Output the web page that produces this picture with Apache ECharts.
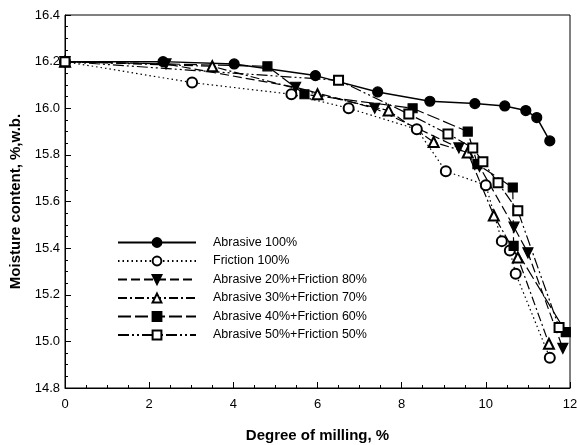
<!DOCTYPE html>
<html>
<head>
<meta charset="utf-8">
<script src="https://cdn.jsdelivr.net/npm/echarts@6/dist/echarts.min.js"></script>
<style>
  html, body { margin: 0; padding: 0; background: #fff; }
  #chart { width: 577px; height: 445px; }
</style>
</head>
<body>
<div id="chart"></div>
<script>
// milling degree (%) , moisture (%,w.b.) pairs
var abrasive100 = [[0,16.2],[2.33,16.2],[4.02,16.19],[5.95,16.14],[7.43,16.07],[8.67,16.03],[9.74,16.02],[10.45,16.01],[10.95,15.99],[11.21,15.96],[11.52,15.86]];
var friction100 = [[0,16.2],[3.02,16.11],[5.38,16.06],[6.74,16.0],[8.36,15.91],[9.05,15.73],[10.0,15.67],[10.38,15.43],[10.57,15.39],[10.71,15.29],[11.52,14.93]];
var a20f80 = [[0,16.2],[2.4,16.19],[5.48,16.09],[7.36,16.0],[9.36,15.83],[9.85,15.75],[10.67,15.49],[11.0,15.38],[11.83,14.97]];
var a30f70 = [[0,16.2],[3.5,16.18],[6.0,16.06],[7.69,15.99],[8.76,15.855],[9.57,15.81],[10.19,15.54],[10.76,15.36],[11.5,14.99]];
var a40f60 = [[0,16.2],[4.81,16.18],[5.69,16.06],[8.26,16.0],[9.57,15.9],[9.8,15.76],[10.64,15.66],[10.66,15.41],[11.9,15.04]];
var a50f50 = [[0,16.2],[6.5,16.12],[8.17,15.975],[9.1,15.89],[9.69,15.83],[9.93,15.77],[10.29,15.68],[10.76,15.56],[11.74,15.06]];

var names = ['Abrasive 100%','Friction 100%','Abrasive 20%+Friction 80%','Abrasive 30%+Friction 70%','Abrasive 40%+Friction 60%','Abrasive 50%+Friction 50%'];

var chart = echarts.init(document.getElementById('chart'));

function mk(name, data, symbol, size, lineType, width){
    return {
        name: name,
        type: 'line',
        data: data,
        symbol: symbol,
        symbolSize: size,
        showAllSymbol: true,
        animation: false,
        itemStyle: { color: '#000', borderColor: '#000', borderWidth: 1.2 },
        lineStyle: { color: '#000', width: width, type: lineType }
    };
}

var triDown = 'path://M0,0 L10,0 L5,9 Z';

var option = {
    backgroundColor: '#fff',
    animation: false,
    grid: {
        left: 65, right: 7, top: 15, bottom: 57,
        outerBoundsMode: 'none',
        show: true, borderColor: '#000', borderWidth: 1
    },
    legend: {
        data: names,
        orient: 'vertical',
        left: 112,
        top: 231,
        itemWidth: 78,
        itemHeight: 11,
        itemGap: 5.5,
        textStyle: { fontFamily: 'Liberation Sans, Arial', fontSize: 12.5, color: '#000', padding: [0,0,0,12] }
    },
    xAxis: {
        type: 'value',
        min: 0, max: 12, interval: 2,
        name: 'Degree of milling, %',
        nameLocation: 'middle',
        nameGap: 40,
        nameTextStyle: { fontFamily: 'Liberation Sans, Arial', fontWeight: 'bold', fontSize: 15, color: '#000' },
        axisLine: { lineStyle: { color: '#000', width: 1 } },
        axisTick: { inside: true, length: 6, lineStyle: { color: '#000' } },
        minorTick: { show: true, splitNumber: 4, length: 3, lineStyle: { color: '#000' } },
        axisLabel: { fontFamily: 'Liberation Sans, Arial', fontSize: 13, color: '#000', margin: 10 },
        splitLine: { show: false }
    },
    yAxis: {
        type: 'value',
        min: 14.8, max: 16.4, interval: 0.2,
        name: 'Moisture content, %,w.b.',
        nameLocation: 'middle',
        nameGap: 36,
        nameTextStyle: { fontFamily: 'Liberation Sans, Arial', fontWeight: 'bold', fontSize: 15, color: '#000' },
        axisLine: { show: true, lineStyle: { color: '#000', width: 1 } },
        axisTick: { show: true, inside: true, length: 6, lineStyle: { color: '#000' } },
        minorTick: { show: true, splitNumber: 4, length: 3, lineStyle: { color: '#000' } },
        axisLabel: { fontFamily: 'Liberation Sans, Arial', fontSize: 13, color: '#000', margin: 5,
            formatter: function(v){ return v.toFixed(1); } },
        splitLine: { show: false }
    },
    series: [
        mk(names[0], abrasive100, 'circle', 10, 'solid', 1.5),
        mk(names[1], friction100, 'emptyCircle', 10, [1.5,3], 1.2),
        mk(names[2], a20f80, triDown, 10, [9,4], 1.2),
        mk(names[3], a30f70, 'emptyTriangle', 10, [9,3,2,3], 1.2),
        mk(names[4], a40f60, 'rect', 9, [13,4], 1.2),
        mk(names[5], a50f50, 'emptyRect', 9, [11,3,2,3,2,3], 1.2)
    ]
};

chart.setOption(option);
</script>
</body>
</html>
